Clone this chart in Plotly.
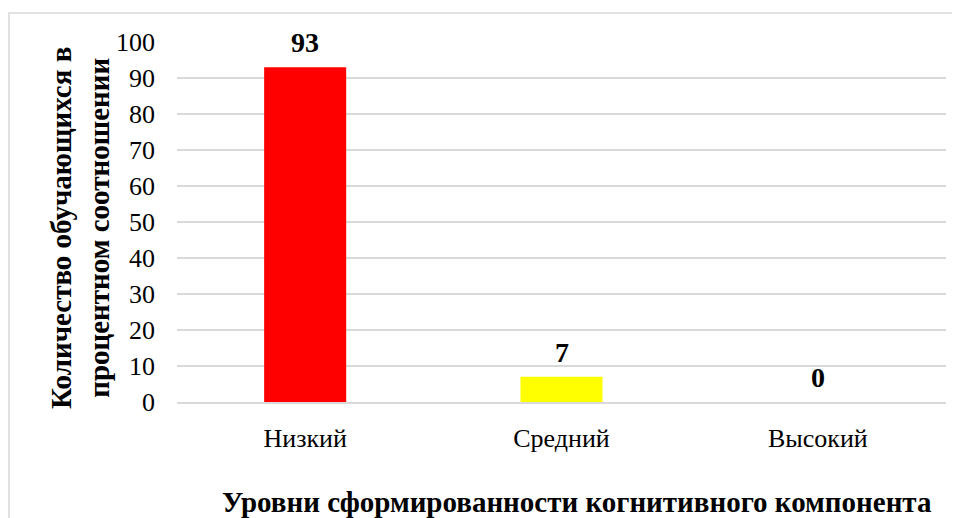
import plotly.graph_objects as go

categories = ["Низкий", "Средний", "Высокий"]
values = [93, 7, 0]
bar_colors = ["#ff0000", "#ffff00", "#4472c4"]
y_ticks = [0, 10, 20, 30, 40, 50, 60, 70, 80, 90, 100]
y_title = "Количество обучающихся в<br>процентном соотношении"
x_title = "Уровни сформированности когнитивного компонента"

FONT = "Liberation Serif, Times New Roman, serif"

fig = go.Figure()
fig.add_trace(go.Bar(
    x=categories, y=values,
    marker=dict(color=bar_colors, line=dict(width=0)),
    width=0.32,
    hoverinfo="x+y",
))

for c, v in zip(categories, values):
    fig.add_annotation(x=c, y=v, xref="x", yref="y", text=f"<b>{v}</b>",
                       showarrow=False, yanchor="bottom", yshift=7,
                       font=dict(family=FONT, size=28, color="black"))

fig.add_annotation(x=0, y=0.5, xref="paper", yref="paper", text=f"<b>{y_title}</b>",
                   textangle=-90, showarrow=False, xanchor="center", yanchor="middle",
                   xshift=-97, yshift=-6,
                   font=dict(family=FONT, size=29, color="black"))
fig.add_annotation(x=0.5, y=0, xref="paper", yref="paper", text=f"<b>{x_title}</b>",
                   showarrow=False, xanchor="center", yanchor="middle",
                   xshift=15, yshift=-100,
                   font=dict(family=FONT, size=29, color="black"))

# chart area border
fig.add_shape(type="rect", xref="paper", yref="paper",
              x0=-168/769, x1=1.2, y0=-0.5, y1=1 + 29/360,
              line=dict(color="#d9d9d9", width=1.5), fillcolor="rgba(0,0,0,0)", layer="below")

fig.update_layout(
    width=960, height=518,
    margin=dict(l=169, r=22, t=34, b=124),
    paper_bgcolor="white", plot_bgcolor="white",
    showlegend=False,
    font=dict(family=FONT, size=26, color="black"),
)
fig.update_yaxes(range=[0, 100], tickvals=y_ticks, showgrid=True, gridcolor="#d9d9d9",
                 gridwidth=1.5, zeroline=False, showline=False, ticks="",
                 ticklabelstandoff=21, tickfont=dict(family=FONT, size=26))
fig.update_xaxes(showgrid=False, showline=True, linecolor="#d9d9d9", linewidth=1.5,
                 ticks="", ticklabelstandoff=12, tickfont=dict(family=FONT, size=26))

fig.write_html("out.html")
